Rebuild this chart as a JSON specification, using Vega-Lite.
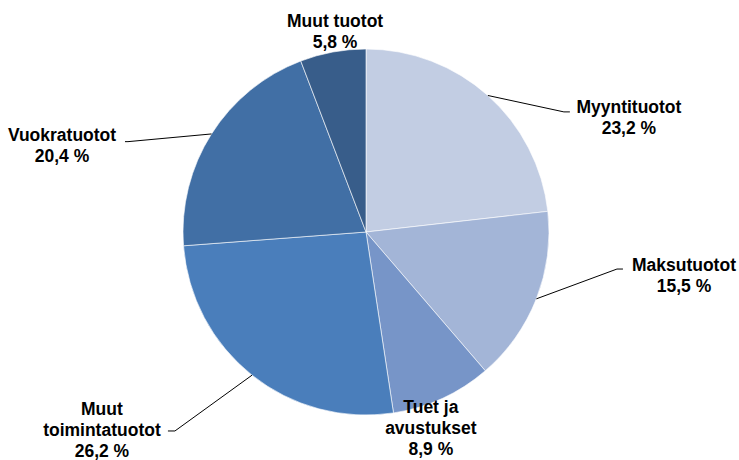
{
  "$schema": "https://vega.github.io/schema/vega-lite/v6.json",
  "width": 732,
  "height": 456,
  "autosize": {"type": "none"},
  "padding": {"left": 0, "top": 4, "right": 7, "bottom": 0},
  "background": "white",
  "view": {"stroke": null},
  "data": {
    "values": [
      {"category": "Myyntituotot", "value": 23.2, "order": 1, "label": "Myyntituotot\n23,2 %"},
      {"category": "Maksutuotot", "value": 15.5, "order": 2, "label": "Maksutuotot\n15,5 %"},
      {"category": "Tuet ja avustukset", "value": 8.9, "order": 3, "label": "Tuet ja\navustukset\n8,9 %"},
      {"category": "Muut toimintatuotot", "value": 26.2, "order": 4, "label": "Muut\ntoimintatuotot\n26,2 %"},
      {"category": "Vuokratuotot", "value": 20.4, "order": 5, "label": "Vuokratuotot\n20,4 %"},
      {"category": "Muut tuotot", "value": 5.8, "order": 6, "label": "Muut tuotot\n5,8 %"}
    ]
  },
  "transform": [
    {"joinaggregate": [{"op": "sum", "field": "value", "as": "total"}]},
    {"window": [{"op": "sum", "field": "value", "as": "cum"}], "sort": [{"field": "order", "order": "ascending"}], "frame": [null, 0]},
    {"calculate": "(datum.cum - datum.value / 2) / datum.total * 2 * PI", "as": "mid"},
    {"calculate": "183 * sin(datum.mid)", "as": "sx"},
    {"calculate": "183 * cos(datum.mid)", "as": "sy"},
    {"calculate": "{'Myyntituotot': [76, -16.4, 82, 141, -12.4], 'Maksutuotot': [80.6, 29.8, 86.6, 147.6, 33.3], 'Tuet ja avustukset': [null, null, null, -11.5, -9.7], 'Muut toimintatuotot': [-77.1, -55.8, -84.1, -150.1, -34.8], 'Vuokratuotot': [-83.5, -7.7, -86.5, -149.5, -2], 'Muut tuotot': [null, null, null, 2.2, 30.5]}[datum.category]", "as": "off"},
    {"calculate": "datum.off[0] == null ? null : datum.sx + datum.off[0]", "as": "ex"},
    {"calculate": "datum.off[1] == null ? null : datum.sy + datum.off[1]", "as": "ey"},
    {"calculate": "datum.off[2] == null ? null : datum.sx + datum.off[2]", "as": "hx"},
    {"calculate": "datum.sx + datum.off[3]", "as": "lx"},
    {"calculate": "datum.sy + datum.off[4]", "as": "ly"}
  ],
  "layer": [
    {
      "mark": {"type": "arc", "outerRadius": 183, "stroke": "white", "strokeWidth": 0.6},
      "encoding": {
        "theta": {"field": "value", "type": "quantitative", "stack": true},
        "order": {"field": "order", "type": "quantitative"},
        "color": {
          "field": "category",
          "type": "nominal",
          "legend": null,
          "scale": {
            "domain": ["Myyntituotot", "Maksutuotot", "Tuet ja avustukset", "Muut toimintatuotot", "Vuokratuotot", "Muut tuotot"],
            "range": ["#C2CDE3", "#A3B5D7", "#7795C8", "#4A7EBB", "#416FA5", "#385D8A"]
          }
        }
      }
    },
    {
      "transform": [{"filter": "datum.ex != null"}],
      "mark": {"type": "rule", "color": "black", "strokeWidth": 1},
      "encoding": {
        "x": {"field": "sx", "type": "quantitative", "scale": {"domain": [-366, 366], "nice": false, "zero": false}, "axis": null},
        "y": {"field": "sy", "type": "quantitative", "scale": {"domain": [-228, 228], "nice": false, "zero": false}, "axis": null},
        "x2": {"field": "ex"},
        "y2": {"field": "ey"}
      }
    },
    {
      "transform": [{"filter": "datum.ex != null"}],
      "mark": {"type": "rule", "color": "black", "strokeWidth": 1},
      "encoding": {
        "x": {"field": "ex", "type": "quantitative", "axis": null},
        "y": {"field": "ey", "type": "quantitative", "axis": null},
        "x2": {"field": "hx"}
      }
    },
    {
      "mark": {"type": "text", "font": "Liberation Sans", "fontWeight": "bold", "fontSize": 17.5, "lineHeight": 21, "lineBreak": "\n", "align": "center", "baseline": "middle", "color": "black"},
      "encoding": {
        "x": {"field": "lx", "type": "quantitative", "axis": null},
        "y": {"field": "ly", "type": "quantitative", "axis": null},
        "text": {"field": "label"}
      }
    }
  ],
  "resolve": {"scale": {"x": "shared", "y": "shared"}}
}
